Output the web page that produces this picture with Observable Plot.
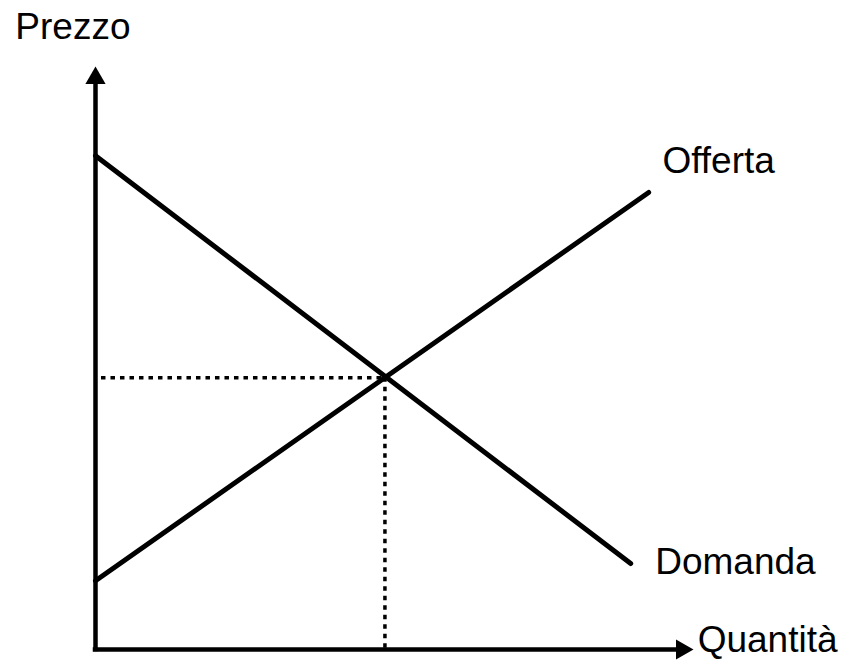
<!DOCTYPE html>
<html>
<head>
<meta charset="utf-8">
<script src="https://cdn.jsdelivr.net/npm/d3@7"></script>
<script src="https://cdn.jsdelivr.net/npm/@observablehq/plot@0.6"></script>
<style>
  html, body { margin: 0; padding: 0; background: #fff; }
</style>
</head>
<body>
<div id="chart"></div>
<script>
// Data (arbitrary units: quantity 0..10, price 0..10)
const demandQ = [0, 8.95];
const demandP = [8.47, 1.475];
const supplyQ = [0, 9.25];
const supplyP = [1.18, 7.84];
const eqQ = 4.84;
const eqP = 4.66;
const dottedStartQ = 0.1;

const labelTexts = ["Prezzo", "Offerta", "Domanda", "Quantità"];
const labelQ = [-1.34, 9.48, 9.36, 10.07];
const labelP = [10.48, 8.165, 1.30, -0.05];
const labels = labelTexts.map((text, i) => ({text, q: labelQ[i], p: labelP[i]}));

const demand = demandQ.map((q, i) => ({q, p: demandP[i]}));
const supply = supplyQ.map((q, i) => ({q, p: supplyP[i]}));

const W = 845, H = 663;
const mL = 95, mR = W - 693, mT = 66, mB = H - 649;
const pxPerQ = (W - mL - mR) / 10;
const pxPerP = (H - mT - mB) / 10;
const arrowR = 7.5;
const arrowCenterOffset = 11.66; // tip-to-centroid in px
const yArrowP = 10 - arrowCenterOffset / pxPerP;
const xArrowQ = 10 - arrowCenterOffset / pxPerQ;

const font = "Liberation Sans, Arial, Helvetica, sans-serif";

const chart = Plot.plot({
  width: W,
  height: H,
  marginLeft: mL,
  marginRight: mR,
  marginTop: mT,
  marginBottom: mB,
  x: {domain: [0, 10], axis: null},
  y: {domain: [0, 10], axis: null},
  style: {background: "#fff", fontFamily: font},
  marks: [
    // dotted equilibrium guides
    Plot.ruleY([eqP], {x1: dottedStartQ, x2: eqQ, stroke: "#000", strokeWidth: 3.5, strokeDasharray: "4.5,5"}),
    Plot.ruleX([eqQ], {y1: eqP, y2: 0, stroke: "#000", strokeWidth: 3.5, strokeDasharray: "4.5,5"}),
    // demand and supply
    Plot.line(demand, {x: "q", y: "p", stroke: "#000", strokeWidth: 5}),
    Plot.line(supply, {x: "q", y: "p", stroke: "#000", strokeWidth: 5}),
    // axes
    Plot.ruleX([0], {y1: 0, y2: yArrowP, stroke: "#000", strokeWidth: 4.5, strokeLinecap: "square"}),
    Plot.ruleY([0], {x1: 0, x2: xArrowQ, stroke: "#000", strokeWidth: 4.5, strokeLinecap: "square"}),
    Plot.dot([{q: 0, p: yArrowP}], {x: "q", y: "p", symbol: "triangle", r: arrowR, fill: "#000", stroke: null}),
    Plot.dot([{q: xArrowQ, p: 0}], {x: "q", y: "p", symbol: "triangle", r: arrowR, fill: "#000", stroke: null, rotate: 90}),
    // labels
    Plot.text(labels, {x: "q", y: "p", text: "text", textAnchor: "start", lineAnchor: "bottom", fontSize: 37, fill: "#000", fontFamily: font})
  ]
});
document.getElementById("chart").appendChild(chart);
</script>
</body>
</html>
